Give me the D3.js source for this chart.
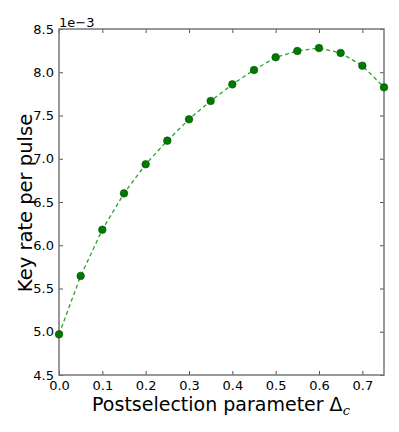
<!DOCTYPE html>
<html>
<head>
<meta charset="utf-8">
<script src="https://cdn.jsdelivr.net/npm/d3@7"></script>
<style>
  body { margin: 0; background: #fff; }
  text { font-family: "DejaVu Sans", sans-serif; fill: #000; }
</style>
</head>
<body>
<div id="chart"></div>
<script>
// data: key rate per pulse (units of 1e-3) vs postselection parameter
const deltaC = [0, 0.05, 0.1, 0.15, 0.2, 0.25, 0.3, 0.35, 0.4, 0.45, 0.5, 0.55, 0.6, 0.65, 0.7, 0.75]
const keyRate = [4.97, 5.645, 6.18, 6.60, 6.936, 7.209, 7.456, 7.668, 7.86, 8.026, 8.173, 8.246, 8.28, 8.223, 8.076, 7.826]
const xTicks = [0, 0.1, 0.2, 0.3, 0.4, 0.5, 0.6, 0.7]
const yTicks = [4.5, 5.0, 5.5, 6.0, 6.5, 7.0, 7.5, 8.0, 8.5]

const W = 399, H = 432
const margin = { left: 59, top: 29, right: 15, bottom: 57 }
const width = W - margin.left - margin.right
const height = H - margin.top - margin.bottom

const svg = d3.select("#chart").append("svg")
    .attr("width", W).attr("height", H)

const x = d3.scaleLinear().domain([0, 0.75]).range([0, width])
const y = d3.scaleLinear().domain([4.5, 8.5]).range([height, 0])

const g = svg.append("g")
    .attr("transform", "translate(" + margin.left + "," + margin.top + ")")

// axes, ticks pointing inward on all 4 sides
g.append("g")
    .attr("transform", "translate(0," + height + ")")
    .call(d3.axisBottom(x).tickValues(xTicks).tickFormat(d3.format(".1f")).tickSizeInner(-4).tickSizeOuter(0).tickPadding(6))
g.append("g")
    .call(d3.axisTop(x).tickValues(xTicks).tickFormat("").tickSizeInner(-4).tickSizeOuter(0))
g.append("g")
    .call(d3.axisLeft(y).tickValues(yTicks).tickFormat(d3.format(".1f")).tickSizeInner(-4).tickSizeOuter(0).tickPadding(5))
g.append("g")
    .attr("transform", "translate(" + width + ",0)")
    .call(d3.axisRight(y).tickValues(yTicks).tickFormat("").tickSizeInner(-4).tickSizeOuter(0))

g.selectAll(".domain").remove()
g.selectAll(".tick line").attr("stroke", "#555")
g.selectAll(".tick text").style("font-size", "13px").style("font-family", "DejaVu Sans").attr("fill", "#000")

// frame
g.append("rect")
    .attr("width", width).attr("height", height)
    .attr("fill", "none").attr("stroke", "#777").attr("stroke-width", 1.5)

// dashed line + markers
const line = d3.line().x((d, i) => x(deltaC[i])).y(d => y(d))
g.append("path")
    .datum(keyRate)
    .attr("d", line)
    .attr("fill", "none")
    .attr("stroke", "#2ea22e")
    .attr("stroke-width", 1.3)
    .attr("stroke-dasharray", "4,3")

g.selectAll("circle.pt")
    .data(keyRate)
    .enter().append("circle")
    .attr("class", "pt")
    .attr("cx", (d, i) => x(deltaC[i]))
    .attr("cy", d => y(d))
    .attr("r", 3.8)
    .attr("fill", "#007a00")
    .attr("stroke", "#0a4a0a")
    .attr("stroke-width", 0.6)

// offset text
svg.append("text")
    .attr("x", margin.left)
    .attr("y", margin.top - 2)
    .style("font-size", "13px")
    .text("1e\u22123")

// axis labels
svg.append("text")
    .attr("transform", "translate(32," + (margin.top + height / 2 + 1) + ") rotate(-90)")
    .attr("text-anchor", "middle")
    .style("font-size", "19.5px")
    .text("Key rate per pulse")

const xl = svg.append("text")
    .attr("x", 221)
    .attr("y", 411)
    .attr("text-anchor", "middle")
    .style("font-size", "19px")
xl.append("tspan").text("Postselection parameter \u0394")
xl.append("tspan").attr("dy", 4).style("font-size", "13px").style("font-style", "italic")
    .style("font-family", "DejaVu Serif").text("c")
</script>
</body>
</html>
